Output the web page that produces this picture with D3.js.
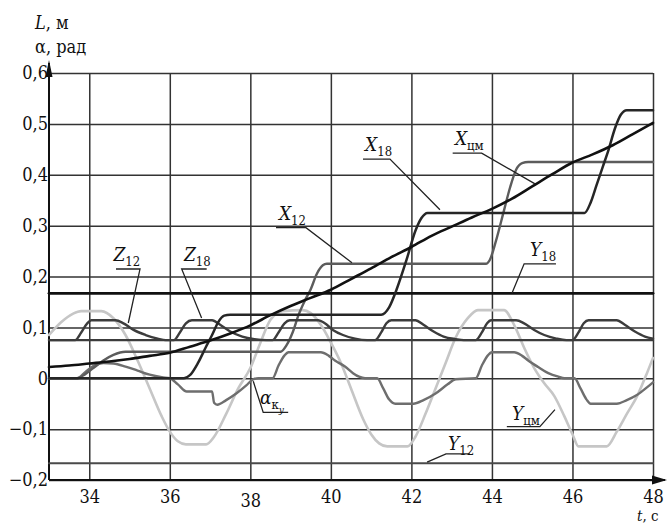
<!DOCTYPE html>
<html>
<head>
<meta charset="utf-8">
<script src="https://cdn.jsdelivr.net/npm/d3@7"></script>
<style>
body { margin: 0; background: #fff; }
.grid line { stroke: #333; stroke-width: 1.5; }
.grid text { fill: #111; }
.line { fill: none; stroke-linejoin: round; stroke-linecap: round; }
.leader { fill: none; stroke: #222; stroke-width: 1.3; }
</style>
</head>
<body>
<svg id="chart" width="671" height="525"></svg>
<script>
// axis ticks
var xTicks = [34, 36, 38, 40, 42, 44, 46, 48];
var yTicks = [-0.2, -0.1, 0, 0.1, 0.2, 0.3, 0.4, 0.5, 0.6];

// series, [t (s), value]
var xCm = [[33,0.022],[33.5,0.025],[34,0.029],[34.5,0.033],[35,0.038],[35.5,0.044],[36,0.05],[36.5,0.062],
    [37,0.074],[37.5,0.088],[38,0.104],[38.5,0.124],[39,0.142],[39.5,0.158],[40,0.174],[40.5,0.195],[41,0.216],
    [41.5,0.238],[42,0.258],[42.5,0.28],[43,0.298],[43.5,0.316],[44,0.333],[44.5,0.353],[45,0.377],[45.5,0.401],
    [46,0.424],[46.5,0.44],[47,0.458],[47.5,0.48],[48,0.502]];
var x18 = [[33,0],[36.35,0],[36.5,0.006],[36.7,0.03],[36.9,0.062],[37.05,0.085],[37.2,0.11],[37.35,0.123],[37.5,0.125],
    [41.25,0.125],[41.45,0.14],[41.63,0.174],[41.88,0.233],[42.1,0.29],[42.25,0.315],[42.4,0.325],
    [46.3,0.325],[46.45,0.345],[46.6,0.38],[46.75,0.415],[46.9,0.45],[47.05,0.49],[47.2,0.518],[47.35,0.527],[48,0.527]];
var x12 = [[33,0],[33.7,0],[33.9,0.008],[34.1,0.02],[34.35,0.035],[34.6,0.046],[34.9,0.052],
    [38.75,0.052],[38.9,0.065],[39.05,0.09],[39.2,0.125],[39.35,0.152],[39.5,0.175],[39.65,0.205],[39.8,0.222],[39.9,0.225],
    [43.85,0.225],[43.95,0.233],[44.1,0.27],[44.3,0.33],[44.45,0.375],[44.6,0.41],[44.75,0.423],[44.9,0.425],[48,0.425]];
var yCm = [[33,0.085],[33.3,0.11],[33.6,0.127],[33.8,0.132],[34.3,0.132],[34.6,0.118],[34.9,0.085],[35.2,0.035],
    [35.5,-0.02],[35.8,-0.075],[36,-0.105],[36.2,-0.124],[36.4,-0.13],[36.9,-0.13],[37.1,-0.115],[37.4,-0.07],
    [37.7,-0.02],[38,0.02],[38.25,0.07],[38.5,0.115],[38.8,0.132],[39.3,0.134],[39.5,0.128],[39.75,0.105],
    [40,0.07],[40.25,0.03],[40.5,-0.02],[40.8,-0.08],[41,-0.11],[41.2,-0.128],[41.4,-0.134],[41.9,-0.134],
    [42.1,-0.115],[42.35,-0.07],[42.6,-0.02],[42.85,0.03],[43.1,0.08],[43.4,0.118],[43.65,0.134],[44.3,0.134],
    [44.55,0.105],[44.8,0.06],[45.05,0.02],[45.3,-0.01],[45.55,-0.035],[45.8,-0.075],[46,-0.11],[46.15,-0.134],
    [46.85,-0.134],[47.1,-0.105],[47.35,-0.07],[47.6,-0.036],[47.85,0.01],[48,0.04]];
var alpha = [[33,0],[33.7,0],[33.9,0.012],[34.1,0.024],[34.35,0.03],[34.6,0.029],[34.9,0.023],[35.2,0.015],
    [35.5,0.007],[35.8,0.002],[36,0],[36.2,-0.012],[36.42,-0.026],[37.05,-0.026],[37.1,-0.048],[37.18,-0.052],
    [37.4,-0.043],[37.65,-0.03],[37.9,-0.014],[38.07,-0.002],[38.2,0],[38.55,0],[38.7,0.025],[38.85,0.045],
    [38.95,0.051],[39.75,0.051],[39.95,0.044],[40.1,0.035],[40.35,0.023],[40.55,0.01],[40.7,0.003],[40.85,0],
    [41.15,0],[41.3,-0.02],[41.45,-0.042],[41.6,-0.05],[42.05,-0.05],[42.3,-0.043],[42.6,-0.03],[42.9,-0.012],
    [43.1,-0.002],[43.6,0],[43.75,0.025],[43.9,0.045],[44,0.051],[44.55,0.051],[44.75,0.044],[44.9,0.035],
    [45.15,0.022],[45.4,0.01],[45.65,0.003],[45.8,0],[46.05,0],[46.2,-0.02],[46.35,-0.042],[46.45,-0.05],
    [47.1,-0.05],[47.35,-0.043],[47.6,-0.033],[47.85,-0.018],[48,-0.008]];
var z12 = [[33,0.075],[33.65,0.075],[33.8,0.09],[33.95,0.108],[34.05,0.114],[34.65,0.114],[34.85,0.108],[35.1,0.095],
    [35.4,0.085],[35.7,0.078],[35.9,0.075],[38.55,0.075],[38.7,0.09],[38.85,0.108],[38.98,0.114],[39.69,0.114],
    [39.85,0.108],[40.05,0.095],[40.3,0.085],[40.6,0.078],[40.9,0.075],[43.6,0.075],[43.75,0.09],[43.88,0.108],
    [43.98,0.114],[44.6,0.114],[44.8,0.108],[45.05,0.095],[45.3,0.085],[45.6,0.078],[45.85,0.075],[48,0.075]];
var z18 = [[33,0.075],[36.1,0.075],[36.25,0.09],[36.4,0.108],[36.55,0.114],[37.05,0.114],[37.25,0.105],[37.5,0.092],
    [37.8,0.082],[38.1,0.077],[38.4,0.075],[41.1,0.075],[41.25,0.09],[41.38,0.108],[41.5,0.114],[42.1,0.114],
    [42.3,0.105],[42.55,0.092],[42.8,0.082],[43.1,0.077],[43.3,0.075],[46,0.075],[46.15,0.09],[46.28,0.108],
    [46.4,0.114],[47.1,0.114],[47.3,0.105],[47.55,0.092],[47.8,0.082],[48,0.078]];
var y18 = [[33,0.167],[48,0.167]];
var y12 = [[33,-0.167],[48,-0.167]];

// curve labels: text position and leader polyline, in data units
var labels = [
    {main: "Z", sub: "12", at: [34.6,0.231], path: [[34.664,0.2147],[35.26,0.2147],[34.969,0.1086]]},
    {main: "Z", sub: "18", at: [36.35,0.231], path: [[36.916,0.2147],[36.295,0.2147],[36.79,0.1185]]},
    {main: "X", sub: "12", at: [38.71,0.311], path: [[38.637,0.296],[39.382,0.296],[40.524,0.227]]},
    {main: "X", sub: "18", at: [40.85,0.4466], path: [[40.797,0.4308],[41.468,0.4308],[42.709,0.3312]]},
    {main: "X", sub: "цм", at: [43.08,0.458], path: [[43.025,0.4426],[43.745,0.4426],[45.07,0.382]]},
    {main: "Y", sub: "18", at: [44.944,0.241], path: [[45.59,0.225],[44.8,0.225],[44.497,0.167]]},
    {main: "α", sub: "κ", sub2: "y", at: [38.24,-0.05], path: [[38.94,-0.067],[38.32,-0.067],[38.073,-0.006]]},
    {main: "Y", sub: "цм", at: [44.497,-0.083], path: [[44.37,-0.095],[45.19,-0.095],[45.565,-0.0617]]},
    {main: "Y", sub: "12", at: [42.908,-0.1407], path: [[43.45,-0.1485],[42.86,-0.1485],[42.39,-0.165]]}
];

var serif = "'DejaVu Serif Condensed', 'DejaVu Serif', serif";

var svg = d3.select("#chart").attr("font-family", serif),
    margin = {top: 73, right: 18, bottom: 45, left: 49},
    width = +svg.attr("width") - margin.left - margin.right,
    height = +svg.attr("height") - margin.top - margin.bottom,
    g = svg.append("g").attr("transform", "translate(" + margin.left + "," + margin.top + ")");

var x = d3.scaleLinear().domain([33, 48]).range([0, width]);
var y = d3.scaleLinear().domain([-0.2, 0.6]).range([height, 0]);

function fmt(d) {
    if (d === 0) return "0";
    return (d < 0 ? "\u2212" : "") + Math.abs(d).toFixed(1).replace(".", ",");
}

// grid + tick labels
var gx = g.append("g")
    .attr("class", "grid")
    .attr("transform", "translate(0," + height + ")")
    .call(d3.axisBottom(x).tickValues(xTicks).tickSize(-height).tickPadding(10).tickFormat(d3.format("d")));
gx.selectAll(".tick text").filter(function(d) { return d === 38; }).attr("y", 14);

var gy = g.append("g")
    .attr("class", "grid")
    .call(d3.axisLeft(y).tickValues(yTicks).tickSize(-width).tickPadding(1).tickFormat(fmt));

svg.selectAll(".grid .domain").remove();
svg.selectAll(".grid").attr("font-family", serif).attr("font-size", 18);

// axes with arrows
g.append("line").attr("x1", 0).attr("x2", 0).attr("y1", height).attr("y2", -10)
    .attr("stroke", "#111").attr("stroke-width", 2);
g.append("path").attr("d", "M0,-13L-3.5,4L3.5,4Z").attr("fill", "#111");
g.append("line").attr("x1", 0).attr("x2", width + 12).attr("y1", height).attr("y2", height)
    .attr("stroke", "#111").attr("stroke-width", 2);
g.append("path").attr("d", "M" + (width + 14) + "," + height + "l-15,-4.5l0,9Z").attr("fill", "#111");

// series
var line = d3.line()
    .x(function(d) { return x(d[0]); })
    .y(function(d) { return y(d[1]); })
    .curve(d3.curveMonotoneX);

var series = [
    {data: yCm, color: "#c6c6c6", w: 2.6},
    {data: alpha, color: "#6e6e6e", w: 2.4},
    {data: x12, color: "#5c5c5c", w: 2.4},
    {data: z12, color: "#3c3c3c", w: 2.4},
    {data: z18, color: "#3c3c3c", w: 2.4},
    {data: y12, color: "#4a4a4a", w: 2},
    {data: y18, color: "#111", w: 2.8},
    {data: x18, color: "#262626", w: 2.5},
    {data: xCm, color: "#111", w: 2.6}
];

g.selectAll(".line")
    .data(series)
    .enter().append("path")
    .attr("class", "line")
    .attr("stroke", function(d) { return d.color; })
    .attr("stroke-width", function(d) { return d.w; })
    .attr("d", function(d) { return line(d.data); });

// labels
var leader = d3.line()
    .x(function(d) { return x(d[0]); })
    .y(function(d) { return y(d[1]); });

labels.forEach(function(l) {
    g.append("path").attr("class", "leader").attr("d", leader(l.path));
    var t = g.append("text")
        .attr("x", x(l.at[0]))
        .attr("y", y(l.at[1]))
        .attr("fill", "#111")
        .style("font-size", "19px");
    t.append("tspan").style("font-style", "italic").text(l.main);
    t.append("tspan").attr("dy", 5).style("font-size", "13px").text(l.sub);
    if (l.sub2) t.append("tspan").attr("dy", 4).style("font-size", "10px").style("font-style", "italic").text(l.sub2);
});

// axis titles
var t1 = svg.append("text").attr("x", 35).attr("y", 29).style("font-size", "18px").attr("fill", "#111");
t1.append("tspan").style("font-style", "italic").text("L");
t1.append("tspan").text(", м");
svg.append("text").attr("x", 35).attr("y", 53).style("font-size", "18px").attr("fill", "#111").text("α, рад");
var t2 = svg.append("text").attr("x", margin.left + width - 16).attr("y", margin.top + height + 41)
    .style("font-size", "15px").attr("fill", "#111");
t2.append("tspan").style("font-style", "italic").text("t");
t2.append("tspan").text(", с");
</script>
</body>
</html>
